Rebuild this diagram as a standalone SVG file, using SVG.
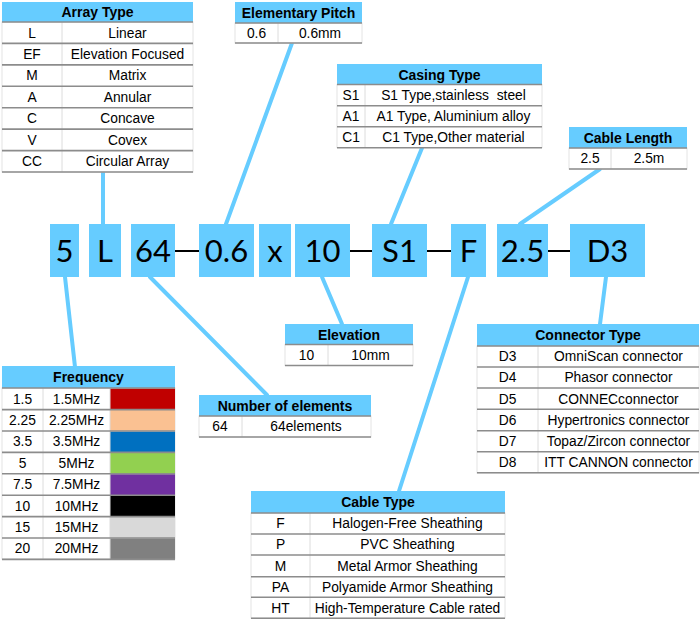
<svg xmlns="http://www.w3.org/2000/svg" width="700" height="620" viewBox="0 0 700 620">
<style>
.hd{fill:#66CCFF}
.ht{font-family:"Liberation Sans",Arial,sans-serif;font-size:14px;font-weight:bold;fill:#000;text-anchor:middle}
.tx{font-family:"Liberation Sans",Arial,sans-serif;font-size:13.8px;fill:#000;text-anchor:middle}
.rl{stroke:#8c8c8c;stroke-width:1.6}
.dv{stroke:#dcdcdc;stroke-width:1}
.bd{fill:#fff;stroke:#e4e4e4;stroke-width:1}
.bx{fill:#66CCFF}
.bt{font-family:Lato,"Open Sans",sans-serif;font-size:31px;fill:#000;text-anchor:middle}
.cn{stroke:#66CCFF;stroke-width:4;stroke-linecap:round;fill:none}
.ds{stroke:#000;stroke-width:2}
</style>
<rect width="700" height="620" fill="#fff"/>
<g id="connectors">
<line class="cn" x1="103" y1="224" x2="103" y2="172"/>
<line class="cn" x1="292" y1="43" x2="226" y2="224"/>
<line class="cn" x1="422" y1="148" x2="391" y2="224"/>
<line class="cn" x1="600" y1="169" x2="520" y2="224"/>
<line class="cn" x1="65" y1="277" x2="75" y2="367"/>
<line class="cn" x1="150" y1="277" x2="267" y2="395"/>
<line class="cn" x1="322" y1="277" x2="342" y2="324"/>
<line class="cn" x1="468" y1="277" x2="399" y2="491"/>
<line class="cn" x1="606" y1="277" x2="600" y2="324"/>
<line class="ds" x1="175" y1="251" x2="199" y2="251"/>
<line class="ds" x1="350" y1="251" x2="372" y2="251"/>
<line class="ds" x1="427" y1="251" x2="451" y2="251"/>
<line class="ds" x1="548" y1="251" x2="570" y2="251"/>
</g>
<g id="code">
<g id="b-5"><rect class="bx" x="50" y="224" width="29" height="53"/><text class="bt" x="64.5" y="262">5</text></g>
<g id="b-L"><rect class="bx" x="89" y="224" width="32" height="53"/><text class="bt" x="105" y="262">L</text></g>
<g id="b-64"><rect class="bx" x="131" y="224" width="44" height="53"/><text class="bt" x="153" y="262">64</text></g>
<g id="b-06"><rect class="bx" x="199" y="224" width="55" height="53"/><text class="bt" x="226.5" y="262">0.6</text></g>
<g id="b-x"><rect class="bx" x="259" y="224" width="32" height="53"/><text class="bt" x="275" y="262">x</text></g>
<g id="b-10"><rect class="bx" x="295" y="224" width="55" height="53"/><text class="bt" x="322.5" y="262">10</text></g>
<g id="b-S1"><rect class="bx" x="372" y="224" width="55" height="53"/><text class="bt" x="399.5" y="262">S1</text></g>
<g id="b-F"><rect class="bx" x="451" y="224" width="35" height="53"/><text class="bt" x="468.5" y="262">F</text></g>
<g id="b-25"><rect class="bx" x="497" y="224" width="51" height="53"/><text class="bt" x="522.5" y="262">2.5</text></g>
<g id="b-D3"><rect class="bx" x="570" y="224" width="75" height="53"/><text class="bt" x="607.5" y="262">D3</text></g>
</g>
<g id="array-type">
<rect class="bd" x="2" y="22" width="191" height="150"/>
<rect class="hd" x="2" y="2" width="191" height="20"/>
<text class="ht" x="97.5" y="17">Array Type</text>
<line class="dv" x1="62" y1="22" x2="62" y2="172"/>
<line class="rl" x1="2" y1="22" x2="193" y2="22"/>
<line class="rl" x1="2" y1="43.4" x2="193" y2="43.4"/>
<line class="rl" x1="2" y1="64.9" x2="193" y2="64.9"/>
<line class="rl" x1="2" y1="86.3" x2="193" y2="86.3"/>
<line class="rl" x1="2" y1="107.7" x2="193" y2="107.7"/>
<line class="rl" x1="2" y1="129.1" x2="193" y2="129.1"/>
<line class="rl" x1="2" y1="150.6" x2="193" y2="150.6"/>
<line class="rl" x1="2" y1="172" x2="193" y2="172"/>
<text class="tx" x="32" y="37.5">L</text><text class="tx" x="127.5" y="37.5">Linear</text>
<text class="tx" x="32" y="58.9">EF</text><text class="tx" x="127.5" y="58.9">Elevation Focused</text>
<text class="tx" x="32" y="80.4">M</text><text class="tx" x="127.5" y="80.4">Matrix</text>
<text class="tx" x="32" y="101.8">A</text><text class="tx" x="127.5" y="101.8">Annular</text>
<text class="tx" x="32" y="123.2">C</text><text class="tx" x="127.5" y="123.2">Concave</text>
<text class="tx" x="32" y="144.6">V</text><text class="tx" x="127.5" y="144.6">Covex</text>
<text class="tx" x="32" y="166.1">CC</text><text class="tx" x="127.5" y="166.1">Circular Array</text>
</g>
<g id="elementary-pitch">
<rect class="bd" x="235" y="23" width="127" height="20"/>
<rect class="hd" x="235" y="2" width="127" height="21"/>
<text class="ht" x="298.5" y="17.5">Elementary Pitch</text>
<line class="dv" x1="278" y1="23" x2="278" y2="43"/>
<line class="rl" x1="235" y1="23" x2="362" y2="23"/>
<line class="rl" x1="235" y1="43" x2="362" y2="43"/>
<text class="tx" x="256.5" y="38">0.6</text><text class="tx" x="320" y="38">0.6mm</text>
</g>
<g id="casing-type">
<rect class="bd" x="337" y="84.5" width="205" height="63"/>
<rect class="hd" x="337" y="64" width="205" height="20.5"/>
<text class="ht" x="439.5" y="79.5">Casing Type</text>
<line class="dv" x1="365" y1="84.5" x2="365" y2="147.7"/>
<line class="rl" x1="337" y1="84.5" x2="542" y2="84.5"/>
<line class="rl" x1="337" y1="105.7" x2="542" y2="105.7"/>
<line class="rl" x1="337" y1="126.7" x2="542" y2="126.7"/>
<line class="rl" x1="337" y1="147.7" x2="542" y2="147.7"/>
<text class="tx" x="351" y="100">S1</text><text class="tx" x="453.5" y="100" xml:space="preserve">S1 Type,stainless  steel</text>
<text class="tx" x="351" y="121">A1</text><text class="tx" x="453.5" y="121">A1 Type, Aluminium alloy</text>
<text class="tx" x="351" y="142">C1</text><text class="tx" x="453.5" y="142">C1 Type,Other material</text>
</g>
<g id="cable-length">
<rect class="bd" x="569" y="148" width="118" height="21"/>
<rect class="hd" x="569" y="127" width="118" height="21"/>
<text class="ht" x="628" y="142.5">Cable Length</text>
<line class="dv" x1="611" y1="148" x2="611" y2="169"/>
<line class="rl" x1="569" y1="148" x2="687" y2="148"/>
<line class="rl" x1="569" y1="169" x2="687" y2="169"/>
<text class="tx" x="590" y="163.3">2.5</text><text class="tx" x="649" y="163.3">2.5m</text>
</g>
<g id="frequency">
<rect class="bd" x="2" y="388" width="173" height="171"/>
<rect class="hd" x="2" y="366" width="173" height="22"/>
<text class="ht" x="88.5" y="382">Frequency</text>
<rect x="110" y="388.5" width="65" height="21" fill="#C00000"/>
<rect x="110" y="410" width="65" height="21" fill="#FAC192"/>
<rect x="110" y="431.5" width="65" height="21" fill="#0070C0"/>
<rect x="110" y="452.8" width="65" height="21" fill="#92D050"/>
<rect x="110" y="474.2" width="65" height="21" fill="#7030A0"/>
<rect x="110" y="495.6" width="65" height="21" fill="#000000"/>
<rect x="110" y="517" width="65" height="21" fill="#D9D9D9"/>
<rect x="110" y="538.4" width="65" height="21" fill="#808080"/>
<line class="dv" x1="43" y1="388" x2="43" y2="559"/>
<line class="dv" x1="110" y1="388" x2="110" y2="559"/>
<line class="rl" x1="2" y1="388" x2="175" y2="388"/>
<line class="rl" x1="2" y1="409.6" x2="175" y2="409.6"/>
<line class="rl" x1="2" y1="431" x2="175" y2="431"/>
<line class="rl" x1="2" y1="452.4" x2="175" y2="452.4"/>
<line class="rl" x1="2" y1="473.8" x2="175" y2="473.8"/>
<line class="rl" x1="2" y1="495.2" x2="175" y2="495.2"/>
<line class="rl" x1="2" y1="516.6" x2="175" y2="516.6"/>
<line class="rl" x1="2" y1="538" x2="175" y2="538"/>
<line class="rl" x1="2" y1="559.4" x2="175" y2="559.4"/>
<text class="tx" x="22.5" y="403.6">1.5</text><text class="tx" x="76.5" y="403.6">1.5MHz</text>
<text class="tx" x="22.5" y="425">2.25</text><text class="tx" x="76.5" y="425">2.25MHz</text>
<text class="tx" x="22.5" y="446.4">3.5</text><text class="tx" x="76.5" y="446.4">3.5MHz</text>
<text class="tx" x="22.5" y="467.8">5</text><text class="tx" x="76.5" y="467.8">5MHz</text>
<text class="tx" x="22.5" y="489.2">7.5</text><text class="tx" x="76.5" y="489.2">7.5MHz</text>
<text class="tx" x="22.5" y="510.6">10</text><text class="tx" x="76.5" y="510.6">10MHz</text>
<text class="tx" x="22.5" y="532">15</text><text class="tx" x="76.5" y="532">15MHz</text>
<text class="tx" x="22.5" y="553.4">20</text><text class="tx" x="76.5" y="553.4">20MHz</text>
</g>
<g id="number-of-elements">
<rect class="bd" x="199" y="416" width="172" height="21"/>
<rect class="hd" x="199" y="395" width="172" height="21"/>
<text class="ht" x="285" y="410.5">Number of elements</text>
<line class="dv" x1="242" y1="416" x2="242" y2="437"/>
<line class="rl" x1="199" y1="416" x2="371" y2="416"/>
<line class="rl" x1="199" y1="437" x2="371" y2="437"/>
<text class="tx" x="220" y="431.3">64</text><text class="tx" x="306" y="431.3">64elements</text>
</g>
<g id="elevation">
<rect class="bd" x="285" y="344.5" width="128" height="21"/>
<rect class="hd" x="285" y="324" width="128" height="20.5"/>
<text class="ht" x="349" y="339.5">Elevation</text>
<line class="dv" x1="328" y1="344.5" x2="328" y2="365.5"/>
<line class="rl" x1="285" y1="344.5" x2="413" y2="344.5"/>
<line class="rl" x1="285" y1="365.5" x2="413" y2="365.5"/>
<text class="tx" x="306.5" y="359.7">10</text><text class="tx" x="370.5" y="359.7">10mm</text>
</g>
<g id="connector-type">
<rect class="bd" x="477" y="346" width="222" height="127"/>
<rect class="hd" x="477" y="324" width="222" height="22"/>
<text class="ht" x="588" y="340">Connector Type</text>
<line class="dv" x1="538" y1="346" x2="538" y2="473"/>
<line class="rl" x1="477" y1="346" x2="699" y2="346"/>
<line class="rl" x1="477" y1="367" x2="699" y2="367"/>
<line class="rl" x1="477" y1="388" x2="699" y2="388"/>
<line class="rl" x1="477" y1="409.3" x2="699" y2="409.3"/>
<line class="rl" x1="477" y1="430.7" x2="699" y2="430.7"/>
<line class="rl" x1="477" y1="451.7" x2="699" y2="451.7"/>
<line class="rl" x1="477" y1="472.7" x2="699" y2="472.7"/>
<text class="tx" x="507.5" y="361.3">D3</text><text class="tx" x="618.5" y="361.3">OmniScan connector</text>
<text class="tx" x="507.5" y="382.3">D4</text><text class="tx" x="618.5" y="382.3">Phasor connector</text>
<text class="tx" x="507.5" y="403.5">D5</text><text class="tx" x="618.5" y="403.5">CONNECconnector</text>
<text class="tx" x="507.5" y="424.8">D6</text><text class="tx" x="618.5" y="424.8">Hypertronics connector</text>
<text class="tx" x="507.5" y="446">D7</text><text class="tx" x="618.5" y="446">Topaz/Zircon connector</text>
<text class="tx" x="507.5" y="467">D8</text><text class="tx" x="618.5" y="467">ITT CANNON connector</text>
</g>
<g id="cable-type">
<rect class="bd" x="251" y="513" width="254" height="105"/>
<rect class="hd" x="251" y="491" width="254" height="22"/>
<text class="ht" x="378" y="507">Cable Type</text>
<line class="dv" x1="310" y1="513" x2="310" y2="618"/>
<line class="rl" x1="251" y1="513" x2="505" y2="513"/>
<line class="rl" x1="251" y1="534" x2="505" y2="534"/>
<line class="rl" x1="251" y1="555" x2="505" y2="555"/>
<line class="rl" x1="251" y1="576.7" x2="505" y2="576.7"/>
<line class="rl" x1="251" y1="597.3" x2="505" y2="597.3"/>
<line class="rl" x1="251" y1="618.3" x2="505" y2="618.3"/>
<text class="tx" x="280.5" y="528.3">F</text><text class="tx" x="407.5" y="528.3">Halogen-Free Sheathing</text>
<text class="tx" x="280.5" y="549.3">P</text><text class="tx" x="407.5" y="549.3">PVC Sheathing</text>
<text class="tx" x="280.5" y="570.6">M</text><text class="tx" x="407.5" y="570.6">Metal Armor Sheathing</text>
<text class="tx" x="280.5" y="591.8">PA</text><text class="tx" x="407.5" y="591.8">Polyamide Armor Sheathing</text>
<text class="tx" x="280.5" y="612.6">HT</text><text class="tx" x="407.5" y="612.6">High-Temperature Cable rated</text>
</g>
</svg>
